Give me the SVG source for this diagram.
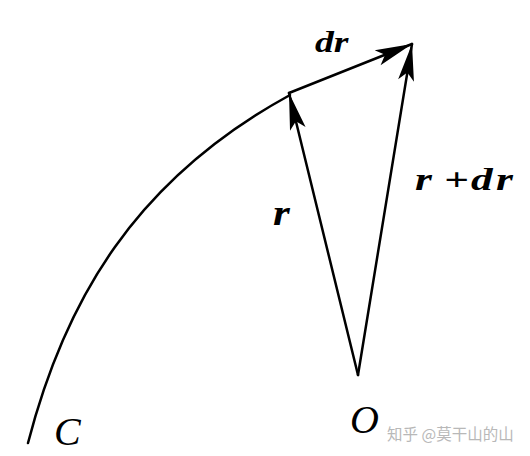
<svg xmlns="http://www.w3.org/2000/svg" width="530" height="456" viewBox="0 0 530 456">
<style>
.ln{fill:none;stroke:#000;stroke-width:2.5;stroke-linecap:round}
.lb{font-family:"Liberation Serif",serif;font-style:italic;font-weight:bold;fill:#000}
.lp{font-family:"Liberation Serif",serif;font-style:italic;fill:#000}
.wm{font-family:"Noto Sans CJK SC",sans-serif;fill:#b8b8b8}
</style>
<defs>
<marker id="ah" markerUnits="userSpaceOnUse" markerWidth="50" markerHeight="30" viewBox="-40 -15 50 30" refX="0" refY="0" orient="auto">
<path d="M0,0 L-37,-8 L-29,0 L-37,8 Z" fill="#000"/>
</marker>
</defs>
<g id="curve-C">
<path class="ln" d="M28,443 C65,300 135,180 290,95"/>
</g>
<g id="connectors">
<line id="vec-r" class="ln" x1="358" y1="375" x2="289" y2="93" marker-end="url(#ah)"/>
<line id="vec-r-dr" class="ln" x1="358" y1="375" x2="412" y2="44" marker-end="url(#ah)"/>
<line id="vec-dr" class="ln" x1="289" y1="93" x2="412" y2="44" marker-end="url(#ah)"/>
</g>
<g id="labels">
<text class="lb" transform="translate(315,52) scale(1.3,1)" font-size="29">dr</text>
<text class="lb" transform="translate(273,225) scale(1.2,1)" font-size="36">r</text>
<g id="label-r-plus-dr" class="lb" font-size="31">
<text transform="translate(415,190) scale(1.4,1)">r</text>
<text transform="translate(444,190) scale(1.4,1)">+</text>
<text transform="translate(471,190) scale(1.4,1)">d</text>
<text transform="translate(496,190) scale(1.4,1)">r</text>
</g>
<text class="lp" x="54" y="445" font-size="40">C</text>
<text class="lp" x="350" y="433" font-size="40">O</text>
<text class="wm" x="387" y="440" font-size="15.5">知乎 @莫干山的山</text>
</g>
</svg>
